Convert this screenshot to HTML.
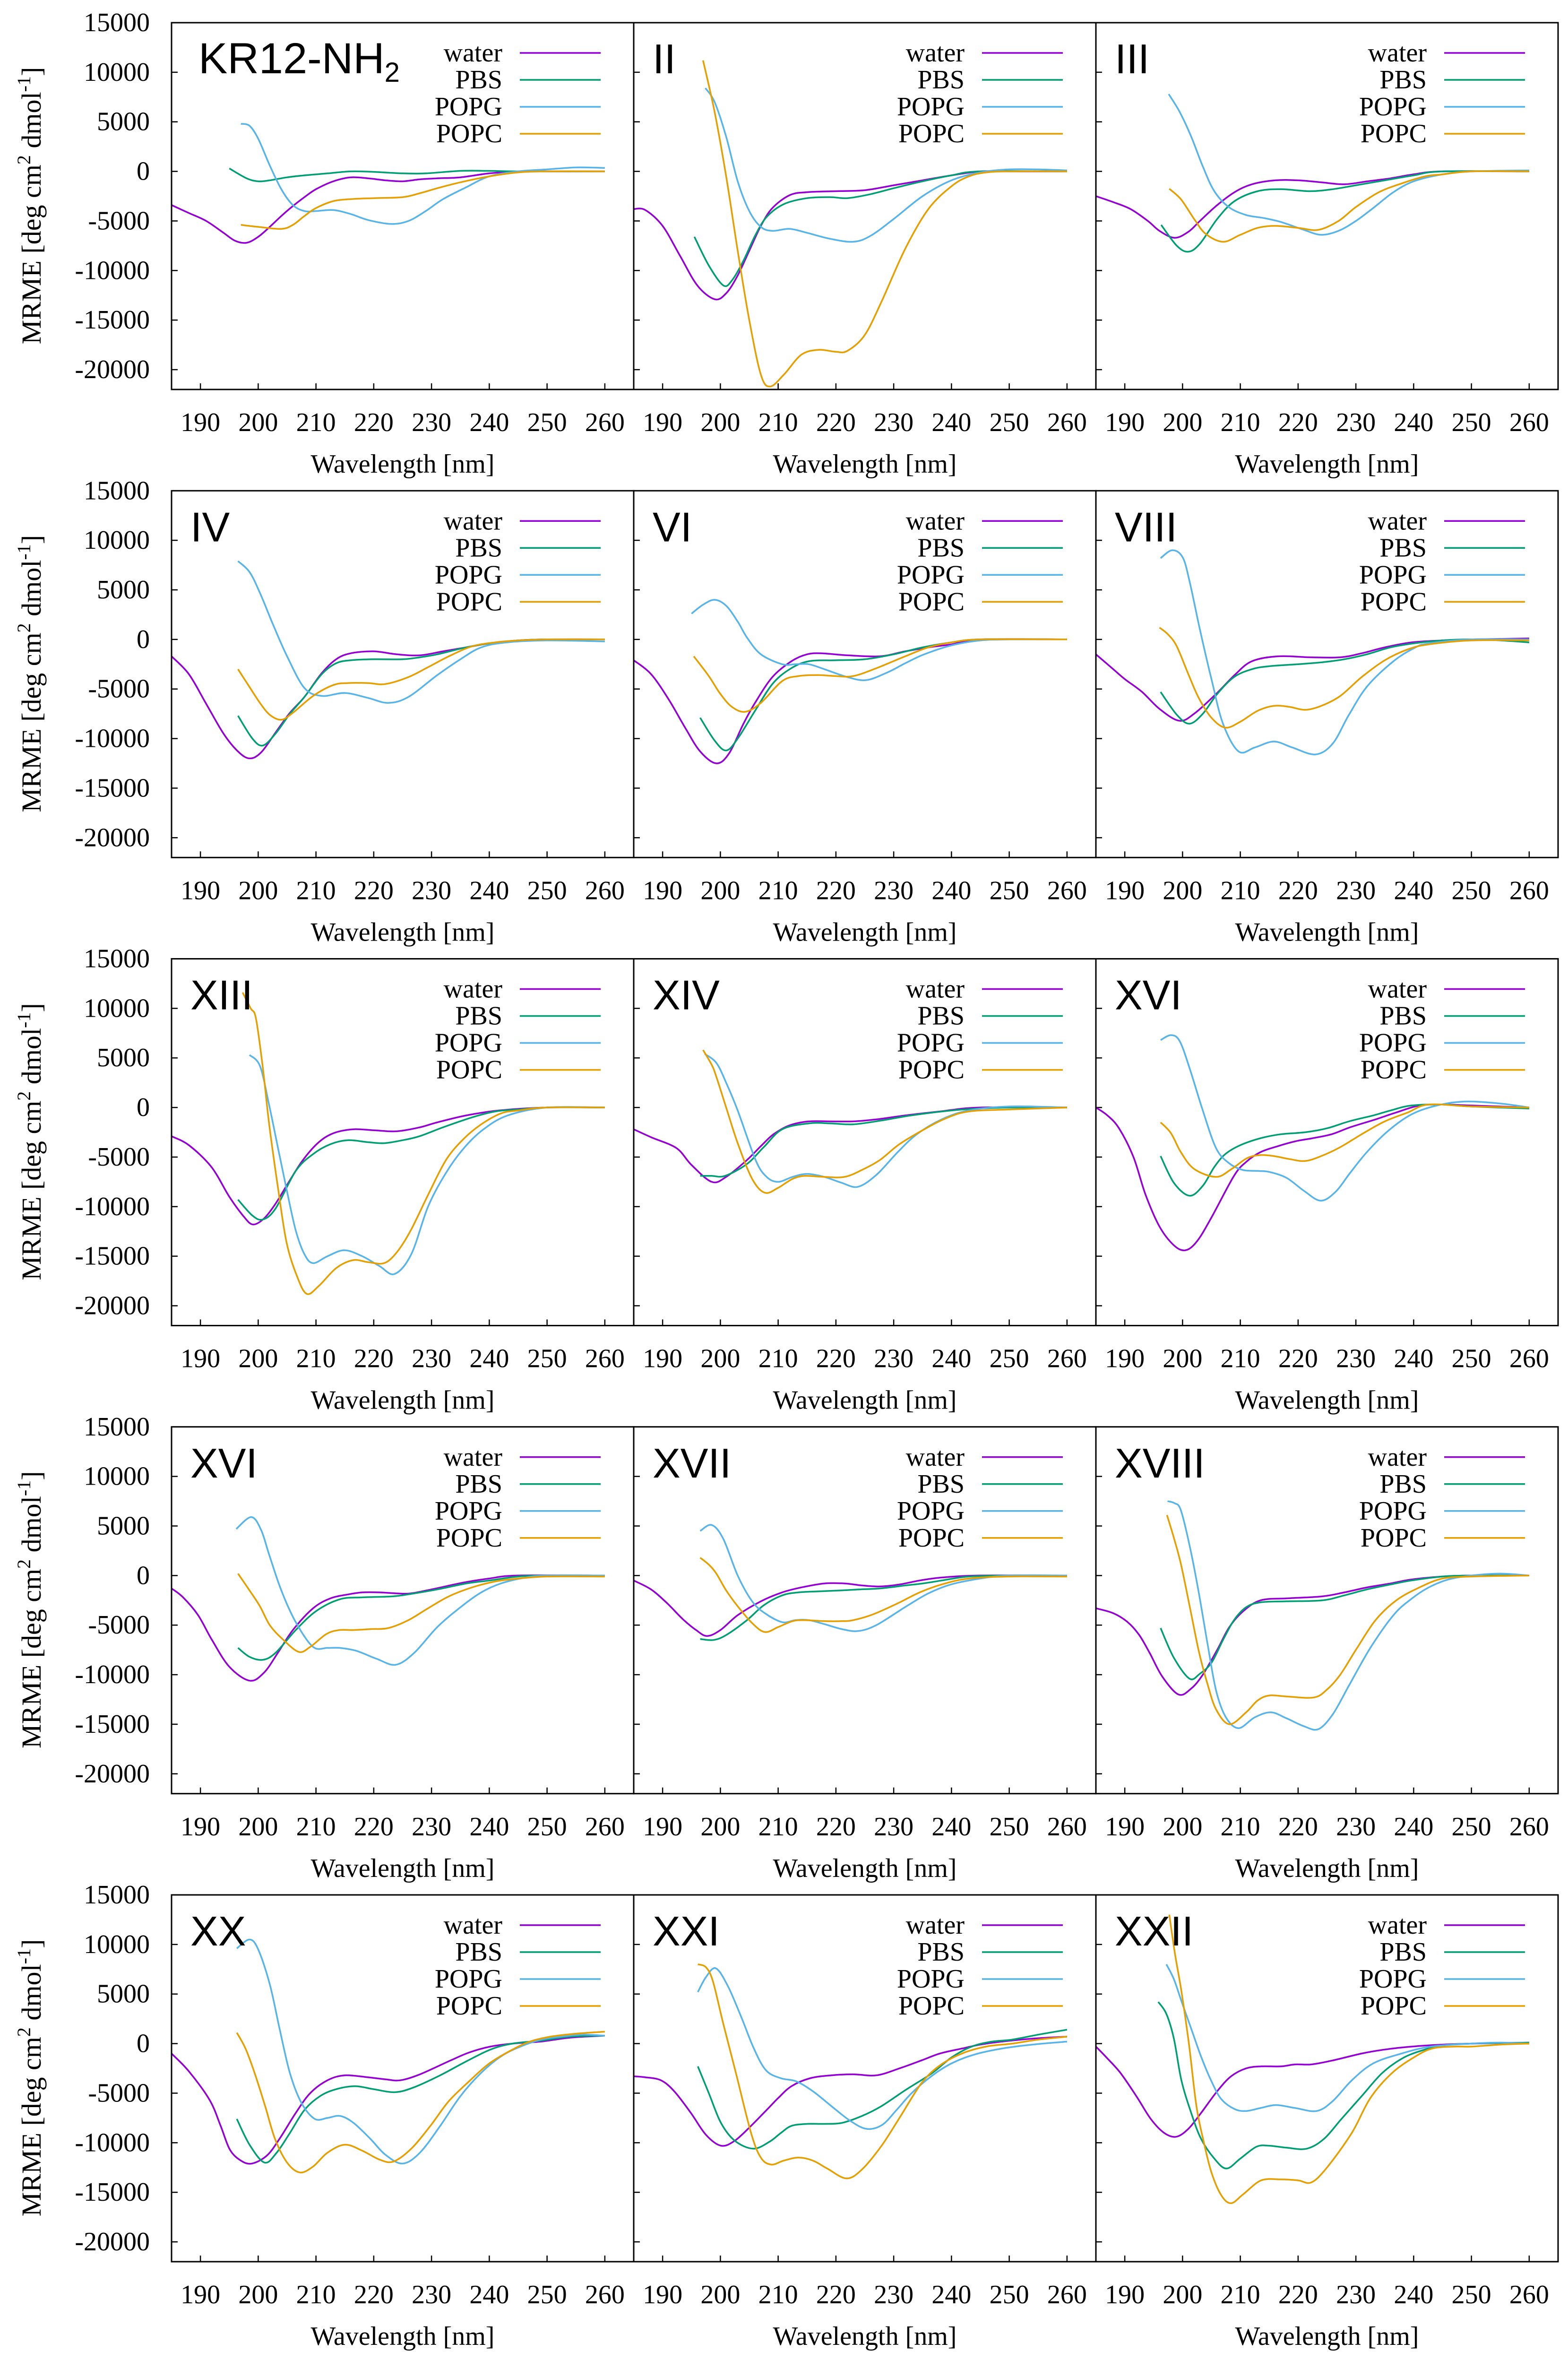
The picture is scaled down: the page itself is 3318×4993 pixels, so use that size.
<!DOCTYPE html>
<html><head><meta charset="utf-8">
<style>
html,body{margin:0;padding:0;background:#fff;}
svg{display:block;}
text{font-family:"Liberation Serif",serif;fill:#000;}
.lbl{font-family:"Liberation Sans",sans-serif;}
</style></head>
<body>
<svg id="chart" xmlns="http://www.w3.org/2000/svg" width="3318" height="4993" viewBox="0 0 3318 4993"></svg>
<script>
const panelLabels = ['KR12-NH','II','III','IV','VI','VIII','XIII','XIV','XVI','XVI','XVII','XVIII','XX','XXI','XXII'];
const seriesNames = ['water','PBS','POPG','POPC'];
const seriesColors = ['#9400d3','#009e73','#56b4e9','#e69f00'];
const yTicks = [15000,10000,5000,0,-5000,-10000,-15000,-20000];
const xTicks = [190,200,210,220,230,240,250,260];

const p01_water=[[185,-3.4],[188,-4.2],[191,-5.0],[194,-6.2],[196,-7.0],[198,-7.2],[200,-6.6],[202,-5.6],[204,-4.5],[206,-3.5],[208,-2.6],[210,-1.8],[213,-1.0],[216,-0.6],[219,-0.7],[222,-0.9],[225,-1.0],[228,-0.8],[231,-0.7],[235,-0.6],[240,-0.2],[245,0],[250,0],[260,0]];
const p01_pbs=[[195,0.3],[198,-0.7],[200,-1.0],[202,-0.9],[205,-0.6],[208,-0.4],[212,-0.2],[216,0],[220,-0.05],[225,-0.2],[229,-0.2],[235,0.05],[240,0.05],[245,0],[260,0]];
const p01_popg=[[197,4.8],[198.5,4.6],[200,3.3],[202,0.6],[204,-1.8],[206,-3.4],[208,-4.0],[210,-4.0],[213,-3.9],[216,-4.3],[219,-4.9],[223,-5.3],[226,-5.0],[229,-4.0],[232,-2.8],[236,-1.6],[240,-0.5],[245,0],[250,0.2],[255,0.4],[260,0.35]];
const p01_popc=[[197,-5.4],[200,-5.6],[204,-5.8],[206,-5.4],[208,-4.5],[210,-3.7],[213,-3.0],[216,-2.8],[220,-2.7],[225,-2.6],[228,-2.2],[231,-1.7],[235,-1.1],[240,-0.5],[245,-0.1],[250,0],[260,0]];

const p02_water=[[185,-3.8],[187,-3.9],[190,-5.5],[193,-8.5],[196,-11.5],[199,-12.9],[201,-12.3],[203,-10.5],[205,-8.0],[207,-5.5],[209,-3.7],[212,-2.4],[215,-2.1],[220,-2.0],[225,-1.9],[230,-1.4],[235,-0.9],[240,-0.4],[245,0],[250,0],[260,0]];
const p02_pbs=[[195.5,-6.6],[198,-9.5],[200.5,-11.5],[202,-11.0],[204,-9.0],[206,-6.5],[208,-4.6],[211,-3.3],[215,-2.7],[219,-2.6],[222,-2.7],[226,-2.3],[230,-1.7],[235,-1.0],[240,-0.4],[245,0],[260,0]];
const p02_popg=[[197.4,8.4],[199,7.0],[201,3.5],[203,-1.0],[205,-4.0],[207,-5.6],[209,-6.0],[212,-5.8],[215,-6.2],[219,-6.8],[223,-7.1],[226,-6.5],[230,-4.8],[235,-2.5],[240,-0.9],[245,-0.1],[250,0.2],[255,0.2],[260,0.1]];
const p02_popc=[[197,11.2],[199,6.0],[201,-0.5],[203,-8.0],[205,-15.0],[207,-20.5],[208.6,-21.7],[211,-20.5],[214,-18.5],[217,-18.0],[220,-18.2],[222,-18.1],[225,-16.5],[228,-13.0],[232,-7.8],[236,-3.8],[240,-1.5],[243,-0.5],[246,-0.1],[250,0],[260,0]];

const p03_water=[[185,-2.5],[188,-3.1],[191,-3.8],[194,-5.0],[196,-6.0],[198.6,-6.7],[201,-6.1],[203,-5.0],[206,-3.4],[209,-2.1],[212,-1.3],[216,-0.9],[220,-0.9],[224,-1.1],[228,-1.3],[232,-1.0],[236,-0.7],[240,-0.3],[245,0],[260,0]];
const p03_pbs=[[196.3,-5.4],[199,-7.5],[201,-8.1],[203,-7.3],[206,-4.8],[209,-3.0],[213,-2.0],[217,-1.8],[222,-2.0],[226,-1.8],[230,-1.4],[235,-0.9],[240,-0.4],[245,0],[260,0]];
const p03_popg=[[197.6,7.8],[199.5,6.0],[201.5,3.5],[203.5,0.5],[205.5,-2.0],[208,-3.6],[211,-4.4],[214,-4.7],[217,-5.1],[221,-5.9],[224,-6.4],[227,-6.0],[230,-5.0],[233,-3.7],[236.5,-2.1],[240,-1.0],[245,-0.3],[250,0],[260,0.1]];
const p03_popc=[[197.7,-1.75],[199.7,-2.8],[202,-4.8],[204,-6.3],[207,-7.1],[210,-6.4],[213,-5.7],[216,-5.5],[220,-5.7],[223.5,-5.9],[227,-5.0],[230,-3.6],[234,-2.1],[238,-1.2],[242,-0.5],[245,-0.3],[250,0],[260,0]];

const p04_water=[[185,-1.7],[188,-3.5],[191,-6.5],[194,-9.5],[196.5,-11.3],[198.5,-12.0],[200.5,-11.4],[203,-9.4],[205.5,-7.4],[208,-5.8],[211,-3.4],[213.5,-2.0],[216,-1.4],[220,-1.2],[224,-1.5],[228,-1.6],[232,-1.2],[236,-0.8],[240,-0.4],[245,-0.1],[250,0],[260,0]];
const p04_pbs=[[196.5,-7.7],[199,-10.0],[200.8,-10.7],[203,-9.5],[205.5,-7.5],[208,-5.8],[211,-3.5],[213.5,-2.4],[216,-2.1],[220,-2.0],[225,-2.0],[228,-1.8],[231,-1.5],[236,-0.8],[240,-0.4],[245,-0.1],[250,0],[260,0]];
const p04_popg=[[196.5,7.9],[198.5,6.8],[200.3,4.7],[202.5,1.6],[205,-1.7],[208,-4.9],[211,-5.7],[215,-5.4],[219,-5.9],[222.5,-6.4],[226,-5.8],[231,-3.6],[235,-2.0],[238.6,-0.8],[243,-0.3],[250,-0.1],[260,-0.2]];
const p04_popc=[[196.5,-3.0],[198.5,-4.8],[200.3,-6.4],[202,-7.6],[204,-8.1],[206,-7.4],[209.5,-5.7],[213,-4.6],[215.6,-4.4],[219,-4.4],[222,-4.5],[226,-3.8],[229.4,-2.8],[233,-1.7],[237,-0.7],[241,-0.3],[245,-0.1],[250,0],[260,0]];

const p05_water=[[185,-2.1],[188,-3.5],[191,-6.0],[194,-9.0],[196.5,-11.3],[199.3,-12.5],[201.5,-11.5],[204,-8.5],[206,-6.4],[209,-3.8],[212.3,-2.2],[215,-1.5],[217.6,-1.4],[222,-1.6],[227.6,-1.7],[232,-1.2],[236,-0.8],[240,-0.5],[245,0],[260,0]];
const p05_pbs=[[196.5,-7.9],[199,-10.2],[201,-11.2],[203,-10.0],[206,-7.2],[209,-4.5],[212,-3.0],[215.3,-2.2],[220,-2.1],[225,-2.0],[230,-1.5],[235,-0.8],[240,-0.3],[245,0],[260,0]];
const p05_popg=[[195,2.6],[197,3.5],[199,4.0],[201,3.4],[203,1.8],[204.6,0.2],[207,-1.5],[210.7,-2.5],[213,-2.5],[215.3,-2.5],[218,-3.0],[222,-3.8],[225.3,-4.1],[229,-3.3],[232,-2.4],[235.3,-1.5],[240,-0.6],[245,-0.1],[250,0],[260,0]];
const p05_popc=[[195.4,-1.7],[198,-3.7],[200,-5.5],[202,-6.8],[204.3,-7.3],[207,-6.4],[210.7,-4.2],[213.5,-3.7],[216.9,-3.6],[220,-3.7],[223,-3.7],[227,-2.9],[232,-1.7],[236,-0.8],[240,-0.3],[245,0],[260,0]];

const p06_water=[[185,-1.5],[188,-3.0],[190,-4.0],[193,-5.3],[196,-7.0],[199.4,-8.2],[202,-7.5],[205.8,-5.5],[209,-3.6],[212,-2.2],[216.6,-1.7],[222,-1.8],[227.3,-1.8],[231,-1.4],[235,-0.8],[239.6,-0.3],[245,-0.1],[250,0],[260,0.1]];
const p06_pbs=[[196.2,-5.3],[199,-7.6],[201.2,-8.5],[203.5,-7.5],[206,-5.5],[208.9,-3.8],[212,-3.0],[215,-2.7],[220,-2.5],[224.2,-2.3],[228,-2.0],[231.9,-1.5],[236,-0.8],[240,-0.4],[245,-0.1],[250,0],[255,-0.1],[260,-0.3]];
const p06_popg=[[196.2,8.2],[198.2,9.0],[200,8.3],[201.2,5.9],[203,1.0],[205,-4.0],[207,-8.5],[209.7,-11.3],[212.5,-10.9],[215.8,-10.3],[219,-10.9],[223,-11.6],[226,-10.5],[228.8,-7.6],[232,-4.7],[236.5,-2.2],[240,-0.9],[242.6,-0.4],[250,0],[260,0]];
const p06_popc=[[196,1.2],[197.5,0.5],[199,-0.7],[201,-3.5],[202.8,-5.9],[205,-7.9],[207.4,-8.9],[210,-8.3],[213,-7.2],[215.8,-6.7],[218.5,-6.8],[221.2,-7.1],[224,-6.7],[227.3,-5.7],[231,-3.8],[235,-2.1],[239,-1.0],[242.6,-0.5],[250,-0.1],[260,-0.1]];

const p07_water=[[185,-2.9],[188,-3.8],[191.9,-6.0],[195,-9.0],[197.5,-11.0],[199.1,-11.8],[201,-11.2],[202.9,-9.8],[204.9,-7.9],[207.5,-5.5],[210.3,-3.6],[213,-2.6],[216.4,-2.2],[220,-2.3],[224,-2.4],[228,-2.0],[231,-1.5],[236,-0.8],[241.7,-0.3],[250,0],[260,0]];
const p07_pbs=[[196.5,-9.3],[199,-10.9],[200.8,-11.3],[203,-10.2],[206.5,-6.4],[209.5,-4.7],[212.5,-3.7],[215.6,-3.3],[219,-3.5],[221.8,-3.6],[225,-3.3],[227.9,-2.9],[232,-2.0],[237,-1.0],[241,-0.4],[245,-0.2],[250,0],[260,0]];
const p07_popg=[[198.5,5.3],[200.3,4.2],[201.8,0.5],[203.4,-4.0],[205,-8.5],[206.5,-12.4],[208,-14.8],[209.5,-15.7],[212,-15.0],[214.9,-14.4],[218,-15.0],[221,-16.0],[223.6,-16.8],[226.5,-14.8],[229.4,-10.0],[232.5,-6.6],[235.6,-4.1],[239,-2.2],[243.2,-0.8],[250,0],[260,0]];
const p07_popc=[[197.3,11.6],[198.7,10.0],[199.6,9.0],[200.8,4.0],[201.9,-1.7],[203.4,-8.0],[204.9,-13.6],[206.7,-17.0],[208.4,-18.8],[210.5,-18.0],[213.5,-16.2],[216.4,-15.4],[219,-15.6],[221.8,-15.7],[224,-14.6],[226.4,-12.4],[229.5,-8.7],[232.5,-5.3],[235.5,-3.2],[238.6,-1.7],[242,-0.6],[245,-0.3],[250,0],[260,0]];

const p08_water=[[185,-2.2],[188,-3.0],[192.4,-4.1],[195,-5.8],[198.5,-7.5],[201,-7.0],[204.6,-5.3],[207,-3.9],[209.2,-2.7],[212,-1.8],[215.3,-1.4],[219,-1.4],[223,-1.4],[227,-1.2],[232,-0.8],[238,-0.4],[245,0],[260,0]];
const p08_pbs=[[196.5,-6.9],[198.5,-6.9],[200.8,-6.9],[204.6,-5.7],[207.5,-4.0],[210.7,-2.2],[215.3,-1.6],[219,-1.6],[223,-1.7],[228,-1.3],[233,-0.8],[240,-0.3],[245,-0.1],[250,0],[260,0]];
const p08_popg=[[197.3,5.4],[199.3,4.5],[201,2.5],[203,-0.3],[206.1,-5.3],[208,-7.0],[210,-7.5],[212.5,-7.0],[215,-6.7],[218,-7.0],[221,-7.6],[223.8,-8.0],[227,-6.8],[230.7,-4.5],[234,-2.7],[238.3,-1.2],[243,-0.3],[250,0.1],[260,0]];
const p08_popc=[[197,5.8],[198.5,4.3],[199.3,3.1],[201,0],[203,-3.6],[205.5,-7.2],[207.7,-8.6],[210,-8.1],[212.5,-7.2],[214.6,-6.9],[218,-7.0],[221.5,-7.0],[224.5,-6.3],[227.6,-5.3],[231,-3.7],[235.3,-2.2],[239,-1.1],[243,-0.4],[250,-0.2],[260,0]];

const p09_water=[[185,0],[187,-0.8],[189,-2.1],[191.5,-5.0],[193.6,-8.8],[196,-12.0],[198.5,-13.9],[200.5,-14.4],[202.5,-13.5],[205,-11.1],[208.9,-6.9],[211,-5.5],[213.5,-4.5],[216.5,-3.9],[219.6,-3.4],[222.5,-3.1],[225.8,-2.7],[229,-2.0],[233.4,-1.2],[237,-0.5],[241,0.2],[245,0.3],[250,0.2],[260,0]];
const p09_pbs=[[196.2,-4.9],[198.5,-7.6],[201.2,-8.9],[203.5,-7.9],[205.5,-6.0],[207.4,-4.7],[210,-3.8],[213.5,-3.1],[217,-2.7],[221.2,-2.5],[225,-2.1],[228.8,-1.4],[233,-0.8],[236,-0.3],[239.6,0.2],[245,0.3],[250,0.1],[260,-0.1]];
const p09_popg=[[196.2,6.8],[198,7.3],[199.5,6.7],[201.2,4.0],[203.5,-0.3],[205.8,-4.1],[208,-5.6],[210.4,-6.3],[213,-6.4],[215,-6.5],[218,-7.1],[221,-8.4],[223.9,-9.4],[226.5,-8.5],[229,-6.6],[231.9,-4.5],[235.5,-2.4],[239.6,-0.7],[244,0.2],[248.8,0.6],[255,0.4],[260,0]];
const p09_popc=[[196.2,-1.5],[198,-2.6],[199.7,-4.5],[202,-6.2],[205.8,-7.0],[208.5,-6.2],[211.2,-5.1],[213.5,-4.8],[215.8,-4.9],[218.5,-5.2],[221.2,-5.4],[224,-4.9],[227.3,-4.0],[231,-2.7],[235,-1.4],[239,-0.5],[242.6,0.3],[250,0.1],[260,0]];

const p10_water=[[185,-1.3],[187,-2.2],[189.6,-4.0],[192,-6.5],[195,-9.2],[198.5,-10.6],[201,-9.8],[203.4,-7.8],[206,-5.5],[209.5,-3.3],[212.5,-2.3],[215.6,-1.9],[218,-1.7],[221,-1.7],[224,-1.8],[226.4,-1.8],[230,-1.4],[235.6,-0.7],[240,-0.3],[245,0],[260,0]];
const p10_pbs=[[196.5,-7.3],[198.5,-8.2],[200.8,-8.5],[203,-7.8],[206.5,-5.5],[210,-3.6],[214.1,-2.4],[218,-2.2],[223.3,-2.1],[227,-1.8],[231,-1.4],[236,-0.8],[240,-0.5],[245,-0.1],[250,0],[260,0]];
const p10_popg=[[196.2,4.7],[198.8,5.9],[200.5,4.6],[201.9,2.1],[204,-1.5],[206.5,-4.7],[209.5,-7.2],[212,-7.3],[214.1,-7.3],[217,-7.6],[220.5,-8.4],[223.8,-9.0],[227,-7.8],[231,-5.2],[235,-3.2],[238.6,-1.7],[242,-0.8],[246.3,-0.2],[250,0],[260,0]];
const p10_popc=[[196.5,0.2],[198.5,-1.5],[200.3,-3.1],[202,-5.0],[204.2,-6.4],[207,-7.7],[209,-7.2],[211.8,-5.9],[214,-5.5],[216.4,-5.5],[219.5,-5.4],[222.5,-5.3],[226,-4.5],[229.4,-3.3],[233,-2.1],[237,-1.2],[241,-0.6],[245,-0.3],[250,-0.1],[260,-0.1]];

const p11_water=[[185,-0.5],[188,-1.4],[190.8,-2.8],[193.5,-4.4],[195.8,-5.5],[197.7,-6.1],[200,-5.5],[203,-4.0],[207,-2.6],[210.7,-1.7],[214,-1.2],[218,-0.8],[221.5,-0.8],[224.5,-1.0],[227.6,-1.1],[231,-0.9],[234.5,-0.5],[238.3,-0.2],[245,0],[260,0]];
const p11_pbs=[[196.5,-6.4],[198.8,-6.5],[201,-6.0],[204.6,-4.5],[207.5,-3.0],[210.7,-2.0],[213.5,-1.7],[216.9,-1.6],[221,-1.5],[224,-1.4],[227.6,-1.3],[232,-1.0],[235,-0.8],[238.3,-0.5],[243,-0.1],[250,0],[260,0]];
const p11_popg=[[196.5,4.5],[198.5,5.1],[200.5,3.7],[203,0],[205.5,-2.6],[207.7,-3.8],[210.7,-4.7],[213,-4.5],[215.3,-4.5],[218,-4.9],[221,-5.4],[223.8,-5.6],[227,-5.0],[232.2,-3.1],[236,-1.8],[239.9,-0.9],[245,-0.3],[250,0],[260,0]];
const p11_popc=[[196.5,1.8],[198,1.1],[199.3,0.2],[201,-1.5],[203,-3.1],[205.5,-4.8],[207.7,-5.7],[210,-5.2],[212.5,-4.6],[214.6,-4.5],[218,-4.6],[221,-4.6],[223,-4.5],[226.5,-3.9],[230.7,-2.8],[234.5,-1.7],[238.3,-0.9],[243,-0.3],[250,-0.1],[260,-0.1]];

const p12_water=[[185,-3.3],[188,-3.8],[190.5,-4.7],[192.5,-6.0],[194.3,-7.8],[196.5,-10.2],[199.3,-12.0],[201.5,-11.4],[203.5,-10.0],[206,-7.5],[208.1,-5.2],[210.5,-3.6],[213.5,-2.5],[218,-2.3],[224.2,-2.1],[228,-1.7],[231.9,-1.2],[236,-0.8],[239.6,-0.4],[245,-0.1],[250,0],[260,0]];
const p12_pbs=[[196.2,-5.3],[198.5,-8.3],[201.2,-10.4],[203,-9.9],[205,-8.8],[207,-6.5],[208.9,-4.5],[211,-3.2],[213.5,-2.7],[218,-2.6],[224.2,-2.5],[228,-2.0],[231.9,-1.4],[236,-0.9],[239.6,-0.5],[245,-0.1],[250,0],[260,0]];
const p12_popg=[[197.4,7.5],[198.6,7.3],[199.7,6.6],[201.3,2.8],[202.8,-1.7],[204.3,-6.8],[205.8,-11.6],[207.5,-14.3],[209.7,-15.4],[212.5,-14.3],[215.3,-13.8],[218,-14.4],[221,-15.2],[223.5,-15.5],[226,-14.0],[228.8,-11.1],[232.5,-7.3],[236.5,-4.0],[239.5,-2.4],[242.6,-1.2],[246,-0.4],[250,0],[255,0.2],[260,0]];
const p12_popc=[[197.3,6.1],[198.5,3.8],[199.7,1.2],[201.2,-3.0],[202.8,-7.6],[204.3,-10.9],[205.8,-13.5],[208.1,-15.0],[211,-13.8],[213,-12.6],[215,-12.1],[218,-12.2],[222.7,-12.3],[225,-11.5],[227.3,-10.0],[230,-7.5],[233.4,-4.5],[237,-2.5],[241,-1.2],[245,-0.3],[250,-0.1],[260,0]];

const p13_water=[[185,-1.0],[188,-2.8],[191.6,-5.7],[193.5,-8.3],[195.1,-10.7],[197,-11.8],[198.9,-12.1],[201.5,-11.3],[203.7,-9.6],[206.5,-7.0],[209,-5.0],[212,-3.7],[215,-3.2],[219,-3.4],[222,-3.6],[224.6,-3.7],[228,-3.1],[233.3,-1.7],[236.5,-0.9],[240.2,-0.3],[244,0],[248.9,0.2],[254,0.6],[260,0.8]];
const p13_pbs=[[196.3,-7.6],[198.5,-10.2],[201.1,-12.0],[203.2,-11.0],[205.5,-9.0],[208,-6.7],[210.7,-5.3],[213.5,-4.6],[216.8,-4.3],[220,-4.6],[223.7,-4.9],[227,-4.4],[231.5,-3.2],[236,-1.8],[240.2,-0.6],[244,0],[248.9,0.3],[254,0.7],[260,0.8]];
const p13_popg=[[196.3,9.6],[198.5,10.5],[200,9.5],[202,6.0],[203.7,1.5],[205.5,-3.0],[207.5,-6.0],[209.8,-7.6],[212,-7.5],[214.2,-7.3],[216.5,-8.0],[219.4,-9.6],[222,-11.2],[225,-12.1],[228,-11.0],[231.5,-8.3],[235,-5.3],[238.5,-3.0],[242,-1.3],[245.4,-0.3],[249,0.4],[252.4,0.7],[256,0.9],[260,0.8]];
const p13_popc=[[196.3,1.1],[197.8,-0.5],[199.4,-3.0],[201.2,-6.3],[202.9,-9.6],[205,-12.0],[207.2,-13.0],[209.5,-12.4],[212,-11.0],[215,-10.2],[218,-10.8],[221,-11.7],[223.4,-11.9],[226.5,-10.6],[229.8,-8.3],[233,-5.8],[236.7,-3.7],[240,-2.0],[243.7,-0.7],[247,0.2],[250.6,0.7],[255,1.0],[260,1.2]];

const p14_water=[[185,-3.3],[187,-3.4],[189.7,-3.7],[192,-4.8],[194.9,-7.0],[197.5,-9.2],[200.1,-10.3],[202.5,-9.8],[205.3,-8.3],[208,-6.7],[210,-5.5],[212.3,-4.3],[215.5,-3.5],[219.2,-3.2],[223,-3.1],[227,-3.2],[231,-2.5],[234.8,-1.7],[238,-1.0],[241.8,-0.5],[245,-0.1],[248.7,0.2],[254,0.5],[260,0.7]];
const p14_pbs=[[196.1,-2.3],[198,-5.0],[200.1,-8.0],[202.5,-9.8],[205.7,-10.6],[208.5,-9.9],[210.5,-9.0],[212.3,-8.3],[215,-8.1],[218,-8.1],[221,-8.0],[224.5,-7.3],[227.9,-6.3],[232,-4.7],[236.6,-3.0],[240,-1.4],[243.5,-0.3],[247,0.2],[250.5,0.4],[255,0.9],[260,1.4]];
const p14_popg=[[196.1,5.2],[197.5,6.7],[199.2,7.6],[201.3,5.8],[203.6,2.7],[205.8,-0.5],[207.9,-2.7],[210.5,-3.5],[213.1,-3.8],[216,-4.8],[219.2,-6.3],[222.5,-7.8],[225.3,-8.6],[228,-8.2],[230.5,-6.7],[233.1,-5.0],[236.5,-3.3],[240,-2.0],[244,-1.1],[248.7,-0.5],[254,-0.1],[260,0.2]];
const p14_popc=[[196.1,8.0],[197.5,7.7],[198.7,6.3],[200.5,2.0],[202.7,-3.0],[205.3,-9.0],[207,-11.5],[208.8,-12.2],[211,-11.8],[213.5,-11.5],[216,-11.8],[218.5,-12.6],[221.8,-13.6],[224.5,-12.7],[227.9,-10.3],[231,-7.5],[234.8,-4.0],[238,-2.2],[241.8,-1.0],[246,-0.3],[250.5,0],[255,0.4],[260,0.7]];

const p15_water=[[185,-0.3],[187,-1.5],[189.3,-3.0],[192,-5.3],[194.5,-7.6],[196.8,-9.0],[198.9,-9.4],[201,-8.6],[203.2,-7.0],[206,-4.8],[208.4,-3.3],[211,-2.5],[213.6,-2.3],[217,-2.3],[219.5,-2.1],[222.3,-2.1],[226,-1.7],[231,-1.0],[235,-0.6],[239.7,-0.3],[245,-0.1],[250,0],[260,0.1]];
const p15_pbs=[[195.8,4.2],[197.2,3.0],[198.5,0.5],[199.8,-3.7],[201.5,-7.0],[203.2,-9.6],[205.5,-11.6],[207.6,-12.6],[210,-11.6],[212.8,-10.4],[215,-10.3],[218,-10.5],[221.5,-10.6],[224.5,-9.6],[227.5,-7.6],[231,-5.3],[234.5,-3.0],[238,-1.5],[241.4,-0.7],[245,-0.2],[250,0],[260,0.1]];
const p15_popg=[[197.2,8.0],[198.5,6.5],[199.8,4.3],[201.5,1.5],[203.2,-1.3],[205,-3.8],[206.7,-5.6],[209,-6.6],[211,-6.8],[213.5,-6.5],[216.2,-6.2],[219.5,-6.5],[223.2,-6.8],[226,-5.8],[229.3,-3.7],[233,-2.0],[237.9,-1.0],[243,-0.3],[250,0],[255,0.1],[260,0]];
const p15_popc=[[197.7,13.0],[198.7,9.0],[199.8,5.3],[201.1,0],[202.4,-6.3],[203.7,-10.0],[205,-13.0],[206.7,-15.3],[208.4,-16.1],[210.5,-15.2],[213.6,-13.8],[217,-13.7],[220,-13.8],[222.3,-14.0],[225,-12.5],[229.3,-9.0],[232.5,-5.5],[236.2,-3.0],[240,-1.4],[243.2,-0.5],[247,-0.3],[250,-0.3],[255,-0.1],[260,0]];

const panelSeries = [
 [p01_water,p01_pbs,p01_popg,p01_popc],[p02_water,p02_pbs,p02_popg,p02_popc],[p03_water,p03_pbs,p03_popg,p03_popc],
 [p04_water,p04_pbs,p04_popg,p04_popc],[p05_water,p05_pbs,p05_popg,p05_popc],[p06_water,p06_pbs,p06_popg,p06_popc],
 [p07_water,p07_pbs,p07_popg,p07_popc],[p08_water,p08_pbs,p08_popg,p08_popc],[p09_water,p09_pbs,p09_popg,p09_popc],
 [p10_water,p10_pbs,p10_popg,p10_popc],[p11_water,p11_pbs,p11_popg,p11_popc],[p12_water,p12_pbs,p12_popg,p12_popc],
 [p13_water,p13_pbs,p13_popg,p13_popc],[p14_water,p14_pbs,p14_popg,p14_popc],[p15_water,p15_pbs,p15_popg,p15_popc]
];

const NS='http://www.w3.org/2000/svg';
const svg=document.getElementById('chart');
const colLeft=[363,1341,2319], PW=978, PH=776, ROW0=48, ROWSTEP=990.25;
const XMIN=185, XMAX=265, YMIN=-22000, YMAX=15000;
function mk(tag,attrs,parent){const e=document.createElementNS(NS,tag);for(const k in attrs)e.setAttribute(k,attrs[k]);(parent||svg).appendChild(e);return e;}
function smoothPath(pts){
  let d='M'+pts[0][0].toFixed(1)+','+pts[0][1].toFixed(1);
  for(let i=0;i<pts.length-1;i++){
    const p0=pts[i-1]||pts[i], p1=pts[i], p2=pts[i+1], p3=pts[i+2]||pts[i+1];
    const c1x=p1[0]+(p2[0]-p0[0])/6, c1y=p1[1]+(p2[1]-p0[1])/6;
    const c2x=p2[0]-(p3[0]-p1[0])/6, c2y=p2[1]-(p3[1]-p1[1])/6;
    d+=' C'+c1x.toFixed(1)+','+c1y.toFixed(1)+' '+c2x.toFixed(1)+','+c2y.toFixed(1)+' '+p2[0].toFixed(1)+','+p2[1].toFixed(1);
  }
  return d;
}

for(let p=0;p<15;p++){
  const row=Math.floor(p/3), col=p%3;
  const L=colLeft[col], T=ROW0+row*ROWSTEP;
  const xs=v=>L+(v-XMIN)/(XMAX-XMIN)*PW;
  const ys=v=>T+(YMAX-v)/(YMAX-YMIN)*PH;
  const g=mk('g',{});
  
  

  // clip
  const cp=mk('clipPath',{id:'clip'+p},g);
  mk('rect',{x:L,y:T,width:PW,height:PH},cp);

  // ticks
  yTicks.forEach(v=>{
    const t=mk('line',{x1:L,x2:L+13,y1:ys(v),y2:ys(v),stroke:'#000','stroke-width':2.5},g);
    
    
    if(col===0){
      const tl=mk('text',{x:317,y:ys(v),'text-anchor':'end','dominant-baseline':'central','font-size':56},g);
      tl.textContent=v;
      
      
    }
  });
  xTicks.forEach(v=>{
    const t=mk('line',{x1:xs(v),x2:xs(v),y1:T+PH,y2:T+PH-13,stroke:'#000','stroke-width':2.5},g);
    
    
    const tl=mk('text',{x:xs(v),y:T+846,'text-anchor':'middle','dominant-baseline':'central','font-size':56},g);
    tl.textContent=v;
    
    
  });
  const xt=mk('text',{x:L+PW/2,y:T+934,'text-anchor':'middle','dominant-baseline':'central','font-size':56},g);
  xt.textContent='Wavelength [nm]';
  
  

  if(col===0){
    const yt=mk('text',{x:0,y:0,'text-anchor':'middle','font-size':58,transform:'translate(86,'+(T+387)+') rotate(-90)'},g);
    
    
    yt.innerHTML='MRME  [deg cm<tspan dy="-22" font-size="40">2</tspan><tspan dy="22"> dmol</tspan><tspan dy="-22" font-size="40">-1</tspan><tspan dy="22">]</tspan>';
  }

  // series
  const sg=mk('g',{'clip-path':'url(#clip'+p+')'},g);
  panelSeries[p].forEach((s,i)=>{
    const pts=s.map(q=>[xs(q[0]),ys(q[1]*1000)]);
    const path=mk('path',{d:smoothPath(pts),fill:'none',stroke:seriesColors[i],'stroke-width':3.5,'stroke-linejoin':'round'},sg);
    
    
  });

  // legend
  seriesNames.forEach((n,i)=>{
    const ly=T+64+i*57;
    const lt=mk('text',{x:L+700,y:ly,'text-anchor':'end','dominant-baseline':'central','font-size':56},g);
    lt.textContent=n;
    
    
    const ll=mk('line',{x1:L+737,x2:L+908,y1:ly,y2:ly,stroke:seriesColors[i],'stroke-width':3.5},g);
    
    
  });

  // panel label
  const pl=mk('text',{x:L+(p===0?57:40),y:T+107,'font-size':p===0?92:88,'class':'lbl'},g);
  
  
  if(p===0){pl.innerHTML='KR12-NH<tspan dy="18" font-size="58">2</tspan>';}
  else pl.textContent=panelLabels[p];

  // frame
  const fr=mk('rect',{x:L,y:T,width:PW,height:PH,fill:'none',stroke:'#000','stroke-width':3},g);
  
  
}
</script>
</body></html>
